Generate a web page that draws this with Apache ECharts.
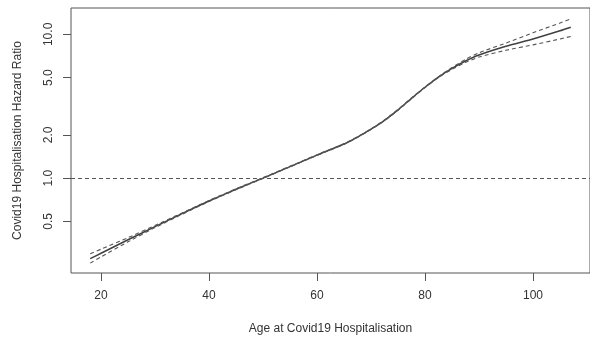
<!DOCTYPE html>
<html>
<head>
<meta charset="utf-8">
<script src="https://cdn.jsdelivr.net/npm/echarts@6/dist/echarts.min.js"></script>
<style>
html,body{margin:0;padding:0;background:#fff;}
#chart{width:590px;height:343px;}
</style>
</head>
<body>
<div id="chart"></div>
<script>
const ages     = [18, 20, 25, 30, 35, 40, 45, 50, 55, 60, 65, 67.5, 70, 72.5, 75, 77.5, 80, 82.5, 85, 87.5, 90, 95, 100, 105, 107];
const estimate = [0.275, 0.300, 0.372, 0.459, 0.566, 0.692, 0.836, 1.0, 1.202, 1.445, 1.726, 1.928, 2.188, 2.523, 2.985, 3.589, 4.285, 5.047, 5.794, 6.531, 7.194, 8.279, 9.290, 10.59, 11.22];
const upper    = [0.298, 0.320, 0.385, 0.468, 0.572, 0.698, 0.842, 1.006, 1.209, 1.453, 1.736, 1.939, 2.201, 2.538, 3.003, 3.611, 4.311, 5.078, 5.880, 6.700, 7.450, 8.700, 10.26, 12.00, 12.80];
const lower    = [0.256, 0.283, 0.360, 0.452, 0.560, 0.686, 0.830, 0.994, 1.195, 1.437, 1.716, 1.917, 2.175, 2.508, 2.967, 3.567, 4.259, 5.016, 5.710, 6.380, 6.950, 7.750, 8.450, 9.290, 9.670];
const yTicks   = [0.5, 1.0, 2.0, 5.0, 10.0];
const xTicks   = [20, 40, 60, 80, 100];
const refLine  = 1.0;

const pairs = arr => ages.map((a, i) => [a, arr[i]]);
const font = 'Liberation Sans, Arial, sans-serif';

const chart = echarts.init(document.getElementById('chart'));
chart.setOption({
  animation: false,
  grid: { left: 71, right: -4, top: 8, bottom: 70, show: true, borderColor: '#555', borderWidth: 1, containLabel: false },
  xAxis: {
    type: 'value', min: 14.44, max: 110.56,
    name: 'Age at Covid19 Hospitalisation', nameLocation: 'middle', nameGap: 50,
    nameTextStyle: { fontFamily: font, fontSize: 12, color: '#333' },
    axisLine: { show: false },
    splitLine: { show: false },
    axisTick: { show: true, length: 8, lineStyle: { color: '#555' }, customValues: xTicks },
    axisLabel: { show: true, margin: 17, fontFamily: font, fontSize: 12, color: '#333', customValues: xTicks }
  },
  yAxis: {
    type: 'log', logBase: 10, min: 0.2185, max: 15.26,
    name: 'Covid19 Hospitalisation Hazard Ratio', nameLocation: 'middle', nameGap: 47,
    nameTextStyle: { fontFamily: font, fontSize: 12, color: '#333' },
    axisLine: { show: false },
    splitLine: { show: false },
    axisTick: { show: true, length: 8, lineStyle: { color: '#555' }, customValues: yTicks },
    axisLabel: { show: true, rotate: 90, margin: 16, fontFamily: font, fontSize: 12, color: '#333',
      customValues: yTicks, formatter: v => Number(v).toFixed(1) }
  },
  series: [
    { type: 'line', data: pairs(estimate), showSymbol: false, symbol: 'none', smooth: 0.2,
      lineStyle: { color: '#404040', width: 1.5 },
      markLine: { silent: true, symbol: 'none', label: { show: false },
        lineStyle: { color: '#555', type: [4, 3], width: 1.1 },
        data: [{ yAxis: refLine }] } },
    { type: 'line', data: pairs(upper), showSymbol: false, symbol: 'none', smooth: 0.2,
      lineStyle: { color: '#555', width: 1.1, type: [4, 3] } },
    { type: 'line', data: pairs(lower), showSymbol: false, symbol: 'none', smooth: 0.2,
      lineStyle: { color: '#555', width: 1.1, type: [4, 3] } }
  ]
});
</script>
</body>
</html>
